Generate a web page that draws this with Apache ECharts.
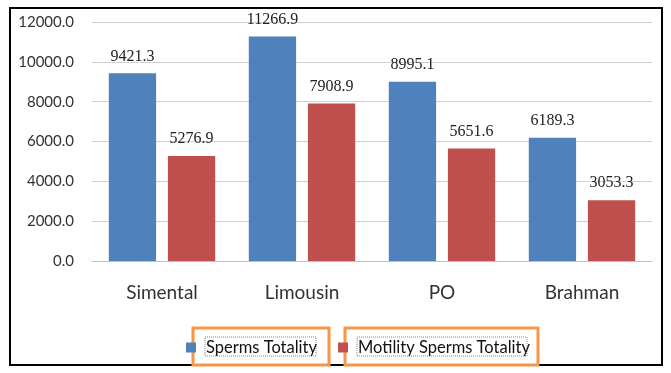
<!DOCTYPE html>
<html>
<head>
<meta charset="utf-8">
<script src="https://cdn.jsdelivr.net/npm/echarts@6/dist/echarts.min.js"></script>
<style>
  html, body { margin: 0; padding: 0; background: #fff; }
  #chart { width: 671px; height: 373px; }
</style>
</head>
<body>
<div id="chart"></div>
<script>
var breeds = ['Simental', 'Limousin', 'PO', 'Brahman'];
var spermsTotality = [9421.3, 11266.9, 8995.1, 6189.3];
var motilityTotality = [5276.9, 7908.9, 5651.6, 3053.3];
var seriesNames = ['Sperms Totality', 'Motility Sperms Totality'];

var myChart = echarts.init(document.getElementById('chart'));
var labelStyle = {
    show: true,
    position: 'top',
    distance: 9,
    fontFamily: 'Liberation Serif',
    fontSize: 16,
    color: '#222',
    formatter: function (p) { return p.value.toFixed(1); }
};
var option = {
    animation: false,
    grid: { left: 92, right: 19, top: 22, bottom: 112 },
    xAxis: {
        type: 'category',
        data: breeds,
        axisLine: { lineStyle: { color: '#bfbfbf' } },
        axisTick: { show: false },
        axisLabel: { fontFamily: 'Lato', fontSize: 19, color: '#333', margin: 22 }
    },
    yAxis: {
        type: 'value',
        min: 0,
        max: 12000,
        interval: 2000,
        axisLine: { show: false },
        axisTick: { show: false },
        splitLine: { lineStyle: { color: '#d0d0d0' } },
        axisLabel: {
            fontFamily: 'Lato', fontSize: 15, color: '#333', margin: 18,
            formatter: function (v) { return v.toFixed(1); }
        }
    },
    legend: {
        left: 181,
        top: 334,
        itemWidth: 10,
        itemHeight: 10,
        itemGap: 21,
        icon: 'rect',
        data: seriesNames,
        textStyle: { fontFamily: 'Lato', fontSize: 16.5, color: '#111', padding: [0, 2, 0, 5] }
    },
    graphic: [
        { type: 'rect', shape: { x: 10, y: 8, width: 652, height: 357 },
          style: { fill: null, stroke: '#000', lineWidth: 2 } },
        { type: 'rect', shape: { x: 193, y: 328, width: 136, height: 37 },
          style: { fill: null, stroke: '#f79646', lineWidth: 3 } },
        { type: 'rect', shape: { x: 345, y: 328, width: 193, height: 37 },
          style: { fill: null, stroke: '#f79646', lineWidth: 3 } },
        { type: 'rect', shape: { x: 205, y: 337, width: 111, height: 19 },
          style: { fill: null, stroke: '#888', lineWidth: 1, lineDash: [1, 1] } },
        { type: 'rect', shape: { x: 357, y: 337, width: 170, height: 19 },
          style: { fill: null, stroke: '#888', lineWidth: 1, lineDash: [1, 1] } }
    ],
    series: [
        {
            name: seriesNames[0],
            type: 'bar',
            data: spermsTotality,
            barGap: '25%',
            barCategoryGap: '24%',
            itemStyle: { color: '#4f81bd' },
            label: labelStyle
        },
        {
            name: seriesNames[1],
            type: 'bar',
            data: motilityTotality,
            itemStyle: { color: '#c0504d' },
            label: labelStyle
        }
    ]
};
myChart.setOption(option);
</script>
</body>
</html>
